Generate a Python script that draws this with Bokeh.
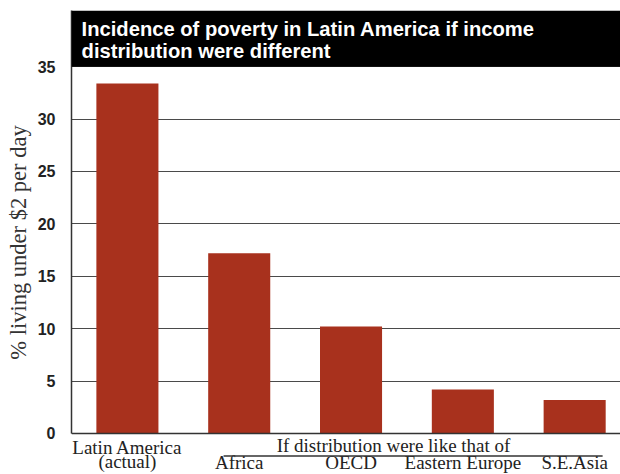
from bokeh.plotting import figure
from bokeh.models import Range1d, FixedTicker, Label, Span, BoxAnnotation, ColumnDataSource
from bokeh.core.properties import value
from bokeh.embed import file_html
from bokeh.resources import INLINE

# ---- data ----
categories = ["Latin America\n(actual)", "Africa", "OECD", "Eastern Europe", "S.E.Asia"]
poverty_pct = [33.4, 17.2, 10.2, 4.2, 3.2]
y_ticks = [0, 5, 10, 15, 20, 25, 30, 35]
title_lines = ["Incidence of poverty in Latin America if income", "distribution were different"]
group_label = "If distribution were like that of"
y_label = "% living under $2 per day"

# ---- layout ----
W, H = 620, 474
PX_PER_UNIT = 10.48
FRAME_TOP, FRAME_LEFT = 10, 71
FRAME_H = H - FRAME_TOP
Y_TOP = 40.36
Y_BOTTOM = Y_TOP - FRAME_H / PX_PER_UNIT
ZERO_PX = FRAME_TOP + Y_TOP * PX_PER_UNIT  # canvas y of value 0
TEXT_SHIFT = -6  # renderer places alphabetic baseline a little lower

def py(fig_y):
    """canvas pixel y -> data y"""
    return (ZERO_PX - fig_y) / PX_PER_UNIT

def ty(fig_y):
    return py(fig_y + TEXT_SHIFT)

BAR = "#a8311d"
TXT = "#222222"
SERIF = "Liberation Serif"
SANS = "Liberation Sans"

p = figure(width=W, height=H, output_backend="svg", toolbar_location=None,
           x_range=Range1d(-0.5, 4.41), y_range=Range1d(Y_BOTTOM, Y_TOP),
           x_axis_location=None, min_border_left=FRAME_LEFT, min_border_right=0,
           min_border_top=FRAME_TOP, min_border_bottom=0)
p.outline_line_color = None
p.background_fill_color = "white"
p.border_fill_color = "white"
p.xgrid.visible = False

p.ygrid.ticker = FixedTicker(ticks=y_ticks)
p.ygrid.grid_line_color = "#4a4a4a"
p.ygrid.grid_line_width = 1.2

ax = p.yaxis[0]
ax.ticker = FixedTicker(ticks=y_ticks)
ax.bounds = (0, Y_TOP)
ax.major_tick_out = 0
ax.major_tick_in = 0
ax.minor_tick_out = 0
ax.minor_tick_in = 0
ax.axis_line_color = "#333333"
ax.axis_line_width = 1.5
ax.major_label_standoff = 16
ax.major_label_text_font = SANS
ax.major_label_text_font_style = "bold"
ax.major_label_text_font_size = "16px"
ax.major_label_text_color = TXT
ax.axis_label = y_label
ax.axis_label_standoff = 4
ax.axis_label_text_font = SERIF
ax.axis_label_text_font_style = "normal"
ax.axis_label_text_font_size = "22.5px"
ax.axis_label_text_color = "#333333"

# bars
xs = list(range(len(categories)))
BW = 0.555
p.vbar(x=xs, top=poverty_pct, bottom=0, width=BW, fill_color=BAR, line_color=None)

# zero line
p.add_layout(Span(location=0, dimension="width", line_color="#333333", line_width=1.6))

# title box
p.add_layout(BoxAnnotation(bottom=y_ticks[-1], fill_color="black", fill_alpha=1.0, line_color=None))
for i, line in enumerate(title_lines):
    p.add_layout(Label(x=-0.41, y=ty(34.3 + 22.4 * i), text=line, text_color="white",
                       text_font=SANS, text_font_style="bold", text_font_size="20.2px",
                       text_align="left", text_baseline="alphabetic"))

# category labels
lx, ly, lt = [], [], []
for i, c in enumerate(categories):
    if i == 0:
        for j, part in enumerate(c.split("\n")):
            lx.append(i); ly.append(ty(453 + 14 * j)); lt.append(part)
    else:
        lx.append(i); ly.append(ty(467.5)); lt.append(c)
src = ColumnDataSource(dict(x=lx, y=ly, text=lt))
p.text(x="x", y="y", text="text", source=src, text_align="center", text_baseline="alphabetic",
       text_font=value(SERIF), text_font_size="19px", text_color=TXT)

# group label + rule
p.text(x=[2.38], y=[ty(451.2)], text=[group_label], text_align="center", text_baseline="alphabetic",
       text_font=value(SERIF), text_font_size="19px", text_color=TXT)
p.segment(x0=[1 - 0.14], y0=[py(455.5)], x1=[4 + 0.25], y1=[py(455.5)], line_color="#333333", line_width=1.3)

open("out.html", "w").write(file_html(p, INLINE))
